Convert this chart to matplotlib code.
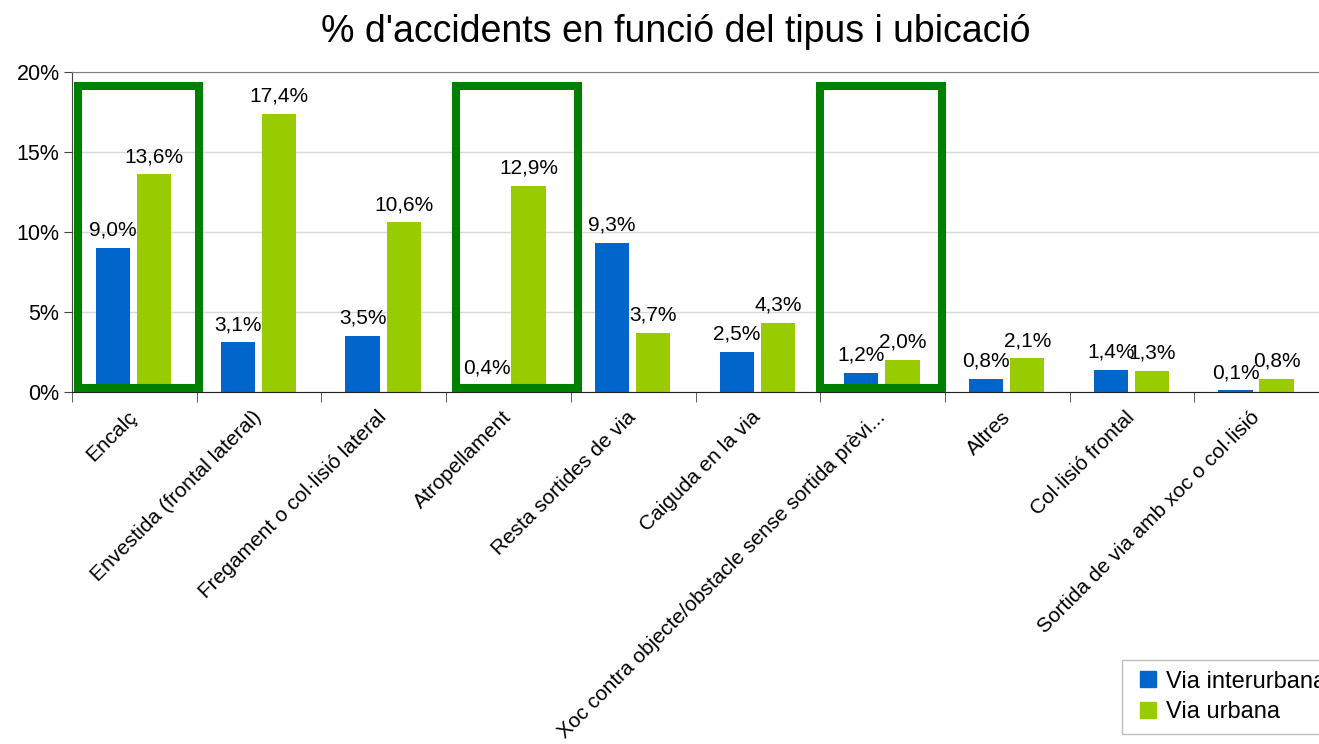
import matplotlib.pyplot as plt
from matplotlib.patches import Rectangle
from matplotlib.lines import Line2D
import numpy as np

plt.rcParams['font.family'] = ['Liberation Sans', 'DejaVu Sans']

categories = ["Encalç", "Envestida (frontal lateral)", "Fregament o col·lisió lateral",
              "Atropellament", "Resta sortides de via", "Caiguda en la via",
              "Xoc contra objecte/obstacle sense sortida prèvi...", "Altres",
              "Col·lisió frontal", "Sortida de via amb xoc o col·lisió"]
interurbana = [9.0, 3.1, 3.5, 0.4, 9.3, 2.5, 1.2, 0.8, 1.4, 0.1]
urbana = [13.6, 17.4, 10.6, 12.9, 3.7, 4.3, 2.0, 2.1, 1.3, 0.8]
# highlighted categories and the box extents around them (left, right offsets)
highlighted = [0, 3, 6]
box_sides = [(-0.452, 0.518), (-0.421, 0.558), (-0.502, 0.477)]

blue = '#0066CC'
green = '#99CC00'

fig = plt.figure(figsize=(13.19, 7.44), dpi=100)
ax = fig.add_axes([72 / 1319, 1 - 392 / 744, 1 - 72 / 1319, 320 / 744])

x = np.arange(len(categories))
w = 0.275
bars1 = ax.bar(x - 0.17, interurbana, w, color=blue, label='Via interurbana', zorder=2)
bars2 = ax.bar(x + 0.16, urbana, w, color=green, label='Via urbana', zorder=2)

for bars, vals in [(bars1, interurbana), (bars2, urbana)]:
    for b, v in zip(bars, vals):
        ax.annotate(f"{v:.1f}%".replace('.', ','),
                    (b.get_x() + b.get_width() / 2, v),
                    xytext=(0, 6), textcoords='offset points',
                    ha='center', va='bottom', fontsize=15, zorder=4)

# green highlight boxes
for i, (l, r) in zip(highlighted, box_sides):
    ax.add_patch(Rectangle((i + l, 0.25), r - l, 19.125 - 0.25, fill=False,
                           edgecolor='#008000', linewidth=5.8, zorder=3,
                           clip_on=False))

ax.set_xlim(-0.5, len(categories) - 0.5)
ax.set_ylim(0, 20)
ax.set_yticks([0, 5, 10, 15, 20])
ax.set_yticklabels(["0%", "5%", "10%", "15%", "20%"], fontsize=15.5)
ax.yaxis.grid(True, color='#d9d9d9', linewidth=1, zorder=0)
ax.set_axisbelow(True)

ax.set_xticks(x)
ax.set_xticklabels(categories, rotation=45, ha='right', va='center',
                   rotation_mode='anchor', fontsize=15)
ax.tick_params(axis='x', length=0, pad=16)
ax.set_xticks(np.arange(-0.5, len(categories)), minor=True)
ax.tick_params(axis='x', which='minor', length=7, color='#444444', direction='out')
ax.tick_params(axis='y', length=6, color='#444444', direction='out', pad=3)

ax.spines['right'].set_visible(False)
ax.spines['top'].set_color('#808080')
ax.spines['left'].set_color('#444444')
ax.spines['bottom'].set_color('#222222')

fig.text(0.512, 1 - 32 / 744, "% d'accidents en funció del tipus i ubicació",
         ha='center', va='center', fontsize=27)

handles = [Line2D([], [], linestyle='none', marker='s', markersize=11,
                  markerfacecolor=c, markeredgecolor=c) for c in (blue, green)]
leg = fig.legend(handles, ['Via interurbana', 'Via urbana'],
                 loc='upper left', bbox_to_anchor=(1122 / 1319, 1 - 660 / 744),
                 borderaxespad=0, fontsize=17, frameon=True, fancybox=False,
                 edgecolor='#b0b0b0', handlelength=1.3, handletextpad=0.1,
                 borderpad=0.45, labelspacing=0.35)

plt.savefig('out.png', dpi=100)
